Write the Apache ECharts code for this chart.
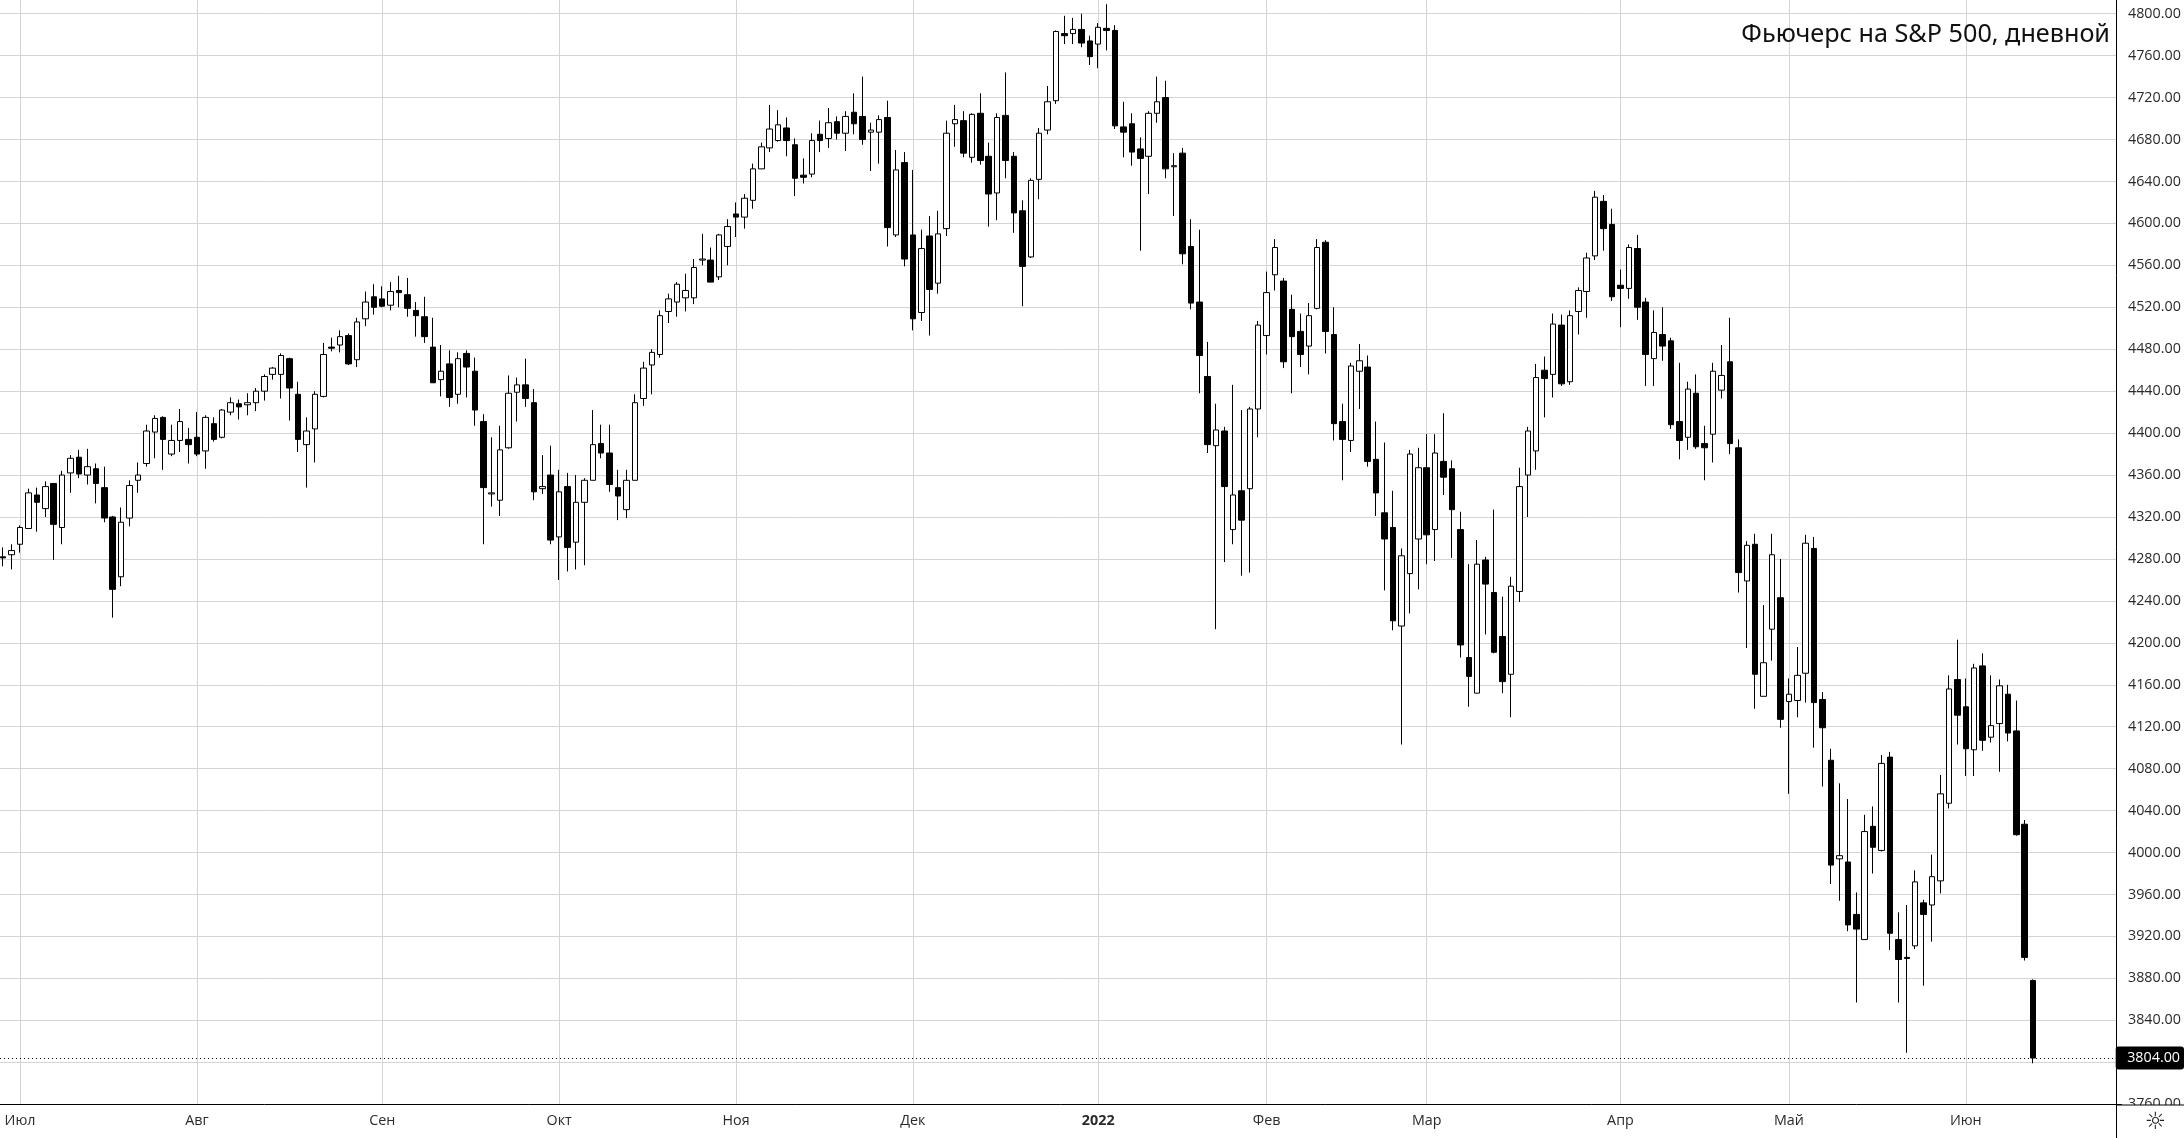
<!DOCTYPE html>
<html>
<head>
<meta charset="utf-8">
<title>Фьючерс на S&amp;P 500, дневной</title>
<script src="https://cdn.jsdelivr.net/npm/echarts@6/dist/echarts.min.js"></script>
<style>
html,body{margin:0;padding:0;background:#fff;}
#chart{width:2184px;height:1138px;}
</style>
</head>
<body>
<div id="chart"></div>
<script>
var opens=[
4282,4284,4294,4309,4341,4328,4352,4310,4362,4377,
4360,4366,4348,4320,4263,4319,4355,4371,4401,4415,
4380,4393,4394,4396,4383,4409,4396,4420,4428,4427,
4429,4440,4456,4456,4471,4437,4389,4404,4435,4482,
4484,4493,4470,4509,4530,4528,4522,4536,4532,4517,
4511,4482,4451,4466,4437,4476,4459,4411,4342,4336,
4386,4439,4446,4429,4347,4360,4301,4349,4296,4334,
4355,4390,4381,4348,4327,4355,4433,4465,4475,4516,
4525,4529,4529,4565,4565,4549,4578,4609,4606,4622,
4652,4672,4679,4691,4675,4646,4647,4685,4681,4697,
4686,4706,4702,4687,4687,4701,4589,4658,4589,4515,
4588,4543,4595,4695,4698,4663,4705,4664,4629,4703,
4664,4612,4568,4642,4689,4717,4781,4781,4785,4774,
4771,4786,4784,4692,4695,4671,4664,4705,4720,4654,
4667,4578,4525,4454,4388,4402,4308,4345,4347,4423,
4493,4551,4545,4518,4497,4483,4519,4582,4494,4411,
4393,4459,4463,4375,4324,4310,4216,4266,4299,4367,
4308,4373,4366,4308,4186,4152,4279,4248,4206,4170,
4249,4360,4383,4460,4456,4503,4449,4516,4535,4569,
4621,4599,4541,4538,4576,4525,4471,4494,4488,4411,
4396,4438,4390,4399,4441,4468,4386,4259,4294,4149,
4213,4243,4144,4145,4171,4290,4146,4088,3994,3991,
3941,3917,4025,4002,4091,3917,3900,3911,3952,3950,
3973,4047,4165,4139,4098,4178,4110,4123,4151,4116,
4027,3878];
var closes=[
4281,4288,4310,4343,4334,4349,4313,4360,4376,4361,
4368,4352,4319,4251,4315,4350,4360,4402,4414,4394,
4393,4411,4389,4380,4415,4394,4422,4429,4425,4429,
4440,4454,4462,4474,4443,4394,4402,4437,4475,4481,
4492,4466,4506,4525,4520,4521,4535,4534,4519,4512,
4492,4448,4459,4434,4471,4463,4422,4348,4343,4384,
4438,4446,4433,4344,4349,4298,4344,4291,4334,4355,
4389,4381,4351,4340,4355,4429,4462,4477,4512,4528,
4542,4536,4558,4566,4544,4589,4597,4606,4624,4652,
4673,4690,4694,4679,4643,4644,4679,4679,4696,4686,
4702,4695,4680,4689,4699,4596,4651,4566,4509,4576,
4537,4590,4686,4699,4667,4704,4660,4628,4701,4660,
4610,4559,4641,4686,4716,4783,4779,4785,4772,4759,
4787,4784,4693,4687,4668,4662,4705,4716,4652,4655,
4571,4524,4474,4389,4403,4349,4341,4317,4423,4503,
4534,4577,4468,4492,4475,4512,4577,4497,4409,4394,
4464,4469,4373,4343,4299,4221,4283,4380,4367,4303,
4381,4358,4327,4198,4168,4275,4256,4191,4163,4254,
4349,4402,4453,4452,4504,4447,4512,4536,4567,4625,
4595,4530,4538,4577,4520,4475,4496,4483,4408,4393,
4442,4387,4386,4459,4455,4390,4267,4293,4170,4181,
4284,4127,4151,4169,4295,4143,4119,3988,3997,3931,
3927,4020,4005,4085,3923,3898,3899,3972,3941,3977,
4056,4156,4131,4099,4176,4107,4121,4159,4114,4017,
3900,3804];
var lows=[
4273,4270,4286,4309,4306,4320,4279,4294,4343,4357,
4351,4333,4315,4224,4254,4311,4343,4368,4376,4365,
4378,4382,4371,4378,4366,4392,4395,4417,4413,4417,
4421,4431,4451,4433,4412,4382,4348,4372,4434,4478,
4477,4465,4463,4502,4513,4520,4517,4520,4511,4492,
4486,4448,4435,4425,4428,4434,4407,4294,4330,4321,
4385,4411,4425,4336,4342,4294,4260,4268,4270,4274,
4355,4376,4344,4317,4319,4355,4426,4437,4472,4505,
4511,4516,4523,4560,4544,4546,4560,4587,4595,4614,
4652,4668,4678,4664,4626,4638,4644,4668,4672,4680,
4669,4685,4675,4650,4657,4578,4587,4559,4498,4507,
4493,4533,4588,4673,4663,4658,4656,4597,4603,4643,
4591,4521,4567,4623,4685,4714,4771,4771,4768,4751,
4748,4765,4690,4663,4655,4574,4628,4696,4643,4607,
4561,4518,4438,4381,4213,4277,4294,4264,4267,4396,
4475,4536,4462,4438,4463,4456,4518,4476,4393,4355,
4382,4423,4368,4321,4250,4212,4103,4228,4251,4275,
4278,4341,4281,4186,4139,4152,4208,4190,4152,4129,
4239,4320,4365,4415,4434,4445,4446,4494,4510,4565,
4574,4526,4501,4528,4508,4445,4445,4469,4404,4375,
4384,4385,4355,4372,4433,4380,4248,4195,4137,4149,
4183,4119,4056,4129,4143,4100,4063,3970,3954,3925,
3857,3917,3980,4001,3907,3857,3809,3908,3873,3915,
3961,4042,4103,4073,4073,4097,4105,4077,4106,4016,
3897,3799];
var highs=[
4291,4294,4312,4347,4348,4354,4352,4364,4379,4384,
4385,4371,4368,4321,4329,4355,4372,4408,4417,4416,
4408,4423,4405,4420,4417,4415,4423,4434,4432,4438,
4443,4456,4463,4476,4472,4449,4415,4440,4486,4491,
4498,4495,4510,4535,4542,4540,4544,4550,4548,4525,
4530,4510,4484,4479,4477,4479,4472,4418,4396,4407,
4455,4453,4471,4442,4379,4388,4365,4362,4360,4357,
4422,4408,4408,4365,4365,4437,4468,4480,4517,4533,
4544,4552,4566,4590,4577,4590,4604,4620,4628,4657,
4677,4713,4708,4701,4681,4662,4686,4698,4710,4702,
4707,4724,4740,4696,4703,4717,4670,4668,4651,4594,
4607,4612,4698,4713,4707,4705,4724,4677,4705,4744,
4668,4622,4643,4691,4731,4784,4798,4796,4800,4779,
4791,4809,4789,4716,4705,4682,4707,4740,4736,4667,
4672,4604,4594,4487,4428,4406,4446,4422,4425,4507,
4554,4585,4548,4532,4514,4524,4585,4584,4520,4428,
4467,4485,4474,4411,4391,4345,4290,4384,4386,4399,
4399,4419,4374,4325,4275,4298,4282,4327,4244,4263,
4367,4406,4466,4473,4514,4513,4517,4539,4572,4631,
4627,4614,4556,4580,4589,4529,4517,4520,4491,4467,
4449,4456,4407,4467,4484,4510,4394,4297,4304,4236,
4304,4280,4166,4196,4303,4301,4153,4099,4066,4051,
3962,4036,4044,4093,4096,3943,3950,3983,3955,3998,
4074,4169,4203,4166,4180,4190,4169,4165,4160,4145,
4031,3879];
var monthIndex=[2,23,45,66,87,108,130,150,169,192,212,233];
var monthLabels=['Июл','Авг','Сен','Окт','Ноя','Дек','2022','Фев','Мар','Апр','Май','Июн'];
var lastPrice=3804;
var titleText='Фьючерс на S&P 500, дневной';

var FONT='"Open Sans"';
var GRID_COLOR='#d3d4d9';
var GRID_TOP=-7.3, GRID_H=1111.5;
var BAR_COUNT=252;

var candles=[];
for(var i=0;i<opens.length;i++){
	candles.push([opens[i],closes[i],lows[i],highs[i]]);
}
// пустые места справа от последней свечи
var categories=[];
for(var j=0;j<BAR_COUNT;j++){
	var k=monthIndex.indexOf(j);
	if(k<0){
		categories.push('');
	}else if(monthLabels[k]==='2022'){
		categories.push({value:monthLabels[k],textStyle:{fontWeight:'bold'}});
	}else{
		categories.push(monthLabels[k]);
	}
}
var isMonth=function(index){
	return monthIndex.indexOf(index)>=0;
};

var myChart=echarts.init(document.getElementById('chart'),null,{renderer:'canvas'});
var option={
	animation:false,
	backgroundColor:'#fff',
	title:{
		text:titleText,
		right:69,
		top:17,
		textStyle:{fontFamily:'"Noto Sans"',fontSize:25.2,fontWeight:'normal',color:'#111'}
	},
	grid:[
		{left:-1,top:GRID_TOP,width:BAR_COUNT*8.423,height:GRID_H,outerBoundsMode:'none'},
		{left:0,top:GRID_TOP,width:2116.5,height:GRID_H,outerBoundsMode:'none'}
	],
	xAxis:[
		{
			type:'category',
			gridIndex:0,
			data:categories,
			boundaryGap:true,
			axisLine:{show:true,lineStyle:{color:'#000',width:1}},
			axisTick:{show:false},
			axisLabel:{
				interval:function(index){return isMonth(index);},
				margin:10,
				fontFamily:FONT,
				fontSize:14.3,
				color:'#2a2a2a'
			},
			splitLine:{
				show:true,
				alignWithLabel:true,
				interval:function(index){return isMonth(index);},
				lineStyle:{color:GRID_COLOR,width:1}
			}
		},
		{type:'value',gridIndex:1,min:0,max:1,show:false}
	],
	yAxis:[
		{type:'value',gridIndex:0,min:3760,max:4820,show:false,splitLine:{show:false}},
		{
			type:'value',
			gridIndex:1,
			position:'right',
			min:3760,
			max:4820,
			interval:40,
			axisLine:{show:true,onZero:false,lineStyle:{color:'#000',width:1}},
			axisTick:{show:false},
			axisLabel:{
				margin:11.5,
				showMaxLabel:false,
				fontFamily:FONT,
				fontSize:14.3,
				color:'#2a2a2a',
				formatter:function(v){return v.toFixed(2);}
			},
			splitLine:{show:true,lineStyle:{color:GRID_COLOR,width:1}},
			axisPointer:{
				show:true,
				status:'show',
				value:lastPrice,
				snap:false,
				triggerTooltip:false,
				lineStyle:{color:'#000',type:[1,3],width:1},
				label:{
					show:true,
					margin:0,
					padding:[4.5,4,4.5,11.5],
					backgroundColor:'#000',
					color:'#fff',
					fontFamily:FONT,
					fontSize:14.3,
					formatter:function(p){return lastPrice.toFixed(2);}
				}
			}
		}
	],
	series:[
		{
			name:'S&P 500',
			type:'candlestick',
			xAxisIndex:0,
			yAxisIndex:0,
			data:candles,
			barWidth:6,
			itemStyle:{
				color:'#fff',
				color0:'#000',
				borderColor:'#000',
				borderColor0:'#000',
				borderWidth:1
			}
		}
	],
	graphic:[
		{type:'rect',z:100,shape:{x:2117,y:1105,width:67,height:33},style:{fill:'#fff'}},
		{type:'line',z:101,shape:{x1:2116.5,y1:1105,x2:2184,y2:1105},style:{stroke:'#000',lineWidth:1}},
		{type:'line',z:101,shape:{x1:2116.5,y1:1105,x2:2116.5,y2:1138},style:{stroke:'#000',lineWidth:1}},
		{type:'text',z:101,x:2155.5,y:1122.5,style:{text:'☼',font:'24px "DejaVu Sans"',fill:'#222',textAlign:'center',textVerticalAlign:'middle'}}
	]
};
myChart.setOption(option);
</script>
</body>
</html>
